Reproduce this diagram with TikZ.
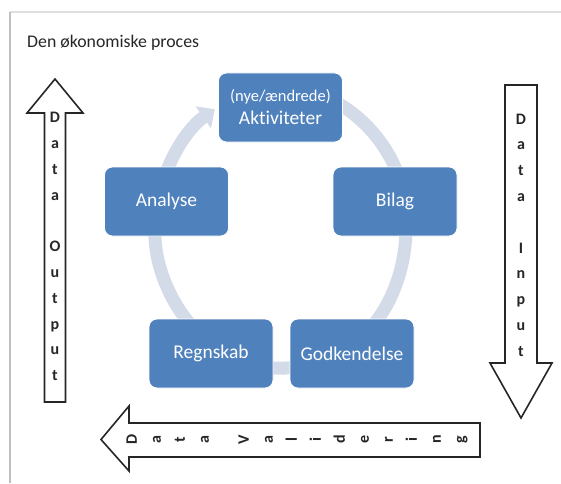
\documentclass[tikz,border=0pt]{standalone}
\usepackage{fontspec}
\setmainfont[Ligatures=NoCommon]{Carlito}
\usetikzlibrary{arrows.meta,calc}
\definecolor{boxblue}{HTML}{4F81BD}
\definecolor{ringcol}{HTML}{D3DAE8}
\begin{document}
\begin{tikzpicture}[x=1pt,y=1pt,
  stepbox/.style={draw=white, line width=0.8pt, fill=boxblue, rounded corners=8pt,
    minimum width=124pt, minimum height=69pt, text=white,
    font=\fontsize{19.5}{23}\selectfont, align=center, inner sep=0pt},
  ring/.style={draw=ringcol, line width=13pt},
  ringarrow/.style={ring, -{Triangle[width=26pt,length=14pt]}},
  blockarrow/.style={draw=black!85, line width=1.6pt, fill=white, line join=miter},
  arrowtext/.style={font=\fontsize{16}{25.8}\selectfont\bfseries, align=center,
    inner sep=0pt, text=black!85},
  arrowtextb/.style={font=\fontsize{16}{24}\selectfont\bfseries, align=center,
    inner sep=0pt, text=black!85}
]
\useasboundingbox (0,0) rectangle (561,483);
% frame
\draw[gray!25, line width=2.5pt] (10,471) -- (561,471);
\draw[gray!50, line width=1.5pt] (10,0) -- (10,471);
% title
\node[anchor=base west, font=\fontsize{17.8}{20}\selectfont, text=black!85, inner sep=0pt]
  (title) at (27,435.5) {Den økonomiske proces};
% ring
\coordinate (O) at (281,255);
\draw[ringarrow] ($(O)+(64:125 and 140)$) arc[start angle=64, end angle=8, x radius=125, y radius=140];
\draw[ringarrow] ($(O)+(2:125 and 140)$) arc[start angle=2, end angle=-58, x radius=125, y radius=140];
\draw[ringarrow] ($(O)+(-80:125 and 140)$) arc[start angle=-80, end angle=-112, x radius=125, y radius=140];
\draw[ringarrow] ($(O)+(-128:125 and 140)$) arc[start angle=-128, end angle=-188, x radius=125, y radius=140];
\draw[ringarrow] ($(O)+(165:125 and 140)$) arc[start angle=165, end angle=122, x radius=125, y radius=140];
% boxes
\node[stepbox] (akt) at (280.5,375.5) {{\fontsize{16.5}{20}\selectfont (nye/ændrede)}\\Aktiviteter};
\node[stepbox] (bilag) at (395,281.5) {Bilag};
\node[stepbox] (godk) at (352,129.5) {Godkendelse};
\node[stepbox] (regn) at (211,129.5) {Regnskab};
\node[stepbox] (analyse) at (166.5,281.5) {Analyse};
% Data Output arrow (up)
\draw[blockarrow] (44.5,81) -- (44.5,370) -- (27,370) -- (55,404) -- (83,370) -- (65.5,370) -- (65.5,81) -- cycle;
\node[arrowtext] (outtext) at (55,236.5) {D\\a\\t\\a\\[25.8pt]O\\u\\t\\p\\u\\t};
% Data Input arrow (down)
\draw[blockarrow] (505,398) -- (505,120) -- (490,120) -- (521,65) -- (552,120) -- (537,120) -- (537,398) -- cycle;
\node[arrowtext] (intext) at (521,248) {D\\a\\t\\a\\[25.8pt]I\\n\\p\\u\\t};
% Data Validering arrow (left)
\draw[blockarrow] (480,26) -- (129,26) -- (129,12) -- (101,43.5) -- (129,77) -- (129,60) -- (480,60) -- cycle;
\node[arrowtextb, rotate=90] (valtext) at (297,43.5) {D\\a\\t\\a\\[16pt]V\\a\\l\\i\\d\\e\\r\\i\\n\\g};
\end{tikzpicture}
\end{document}
